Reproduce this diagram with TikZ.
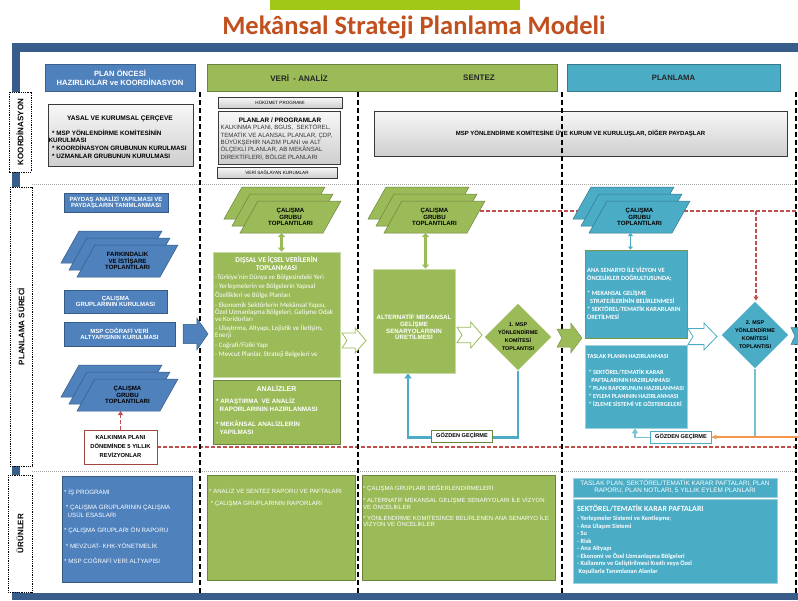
\documentclass[tikz,border=0pt]{standalone}
\usepackage{fontspec}
\setmainfont{Liberation Sans}
\newfontfamily\calfont{Carlito}
\usetikzlibrary{shapes.geometric,arrows.meta,calc}
\pgfdeclarelayer{back}
\pgfdeclarelayer{bg}
\pgfsetlayers{back,bg,main}
\definecolor{frameblue}{RGB}{56,93,138}
\definecolor{hblue}{RGB}{79,129,189}
\definecolor{hgreen}{RGB}{155,187,89}
\definecolor{hteal}{RGB}{75,172,198}
\definecolor{titlec}{RGB}{192,80,30}
\definecolor{topgreen}{RGB}{160,200,20}
\definecolor{redd}{RGB}{192,80,77}
\definecolor{orangec}{RGB}{247,150,70}
\newcommand\fs[2]{\fontsize{#1}{#2}\selectfont}
\newcommand\boxc[7]{\node[#6, minimum width={(#4)-(#2)}, minimum height={(#5)-(#3)}] (#1) at ({((#2)+(#4))/2},{((#3)+(#5))/2}) {#7};}
\newcommand\stk[5]{%
 \foreach \k in {0,1,2}{%
  \filldraw[fill=#4, draw=#4!70!black, line width=0.5pt]
   ({#2+8*\k+18},{#3+7*\k}) -- ({#2+8*\k+101},{#3+7*\k}) -- ({#2+8*\k+83},{#3+7*\k+32}) -- ({#2+8*\k},{#3+7*\k+32}) -- cycle;}
 \node[stktxt] (#1) at ({#2+66.5},{#3+30}) {#5};
 \coordinate (#1-b) at ({#2+57.5},{#3+46});}
\newcommand\barr[6]{%
 \filldraw[#6] (#1,{#2+0.2*(#4-#2)}) -- ({#3-0.45*(#3-#1)},{#2+0.2*(#4-#2)}) -- ({#3-0.45*(#3-#1)},#2) -- (#3,{(#2+#4)/2}) -- ({#3-0.45*(#3-#1)},#4) -- ({#3-0.45*(#3-#1)},{#4-0.2*(#4-#2)}) -- (#1,{#4-0.2*(#4-#2)}) -- ({#1+#5},{(#2+#4)/2}) -- cycle;}
\tikzset{
 every node/.style={inner sep=0pt},
 hdrb/.style={fill=hblue, draw=hblue!75!black, line width=0.6pt, text=white, font=\bfseries\fs{7.6}{8.6}, align=center},
 hdrg/.style={fill=hgreen, draw=hgreen!70!black, line width=0.6pt},
 hdrt/.style={fill=hteal, draw=hteal!70!black, line width=0.6pt, font=\bfseries\fs{7.7}{9}, text=black!85},
 htxt/.style={font=\bfseries\fs{8}{9}, text=black!85},
 lbl/.style={draw=black, dash pattern=on 1pt off 0.8pt, line width=0.9pt, fill=white, font=\bfseries\fs{8}{9}},
 gbox/.style={top color=gray!6, bottom color=gray!38, draw=gray!45!black, line width=0.6pt, align=center},
 lbx/.style={fill=hblue, draw=hblue!70!black, line width=0.6pt, text=white, font=\bfseries\fs{6}{6.6}, align=center},
 gbx/.style={fill=hgreen, draw=hgreen!55!white, line width=0.8pt},
 gbx2/.style={fill=hgreen, draw=hgreen!70!black, line width=0.6pt},
 tbx1/.style={fill=hteal, draw=hgreen!80!black, line width=0.9pt},
 tbx2/.style={fill=hteal, draw=hteal!55!white, line width=0.8pt},
 ubb/.style={fill=hblue, draw=hblue!70!black, line width=0.6pt},
 ugb/.style={fill=hgreen, draw=hgreen!70!black, line width=0.6pt},
 utb/.style={fill=hteal, draw=hteal!55!white, line width=0.8pt},
 stktxt/.style={font=\bfseries\fs{6.1}{6.6}, align=center, text=black},
 wtxt/.style={anchor=north west, align=left, text=white},
 vdash/.style={line width=1.7pt, dash pattern=on 5pt off 3pt},
 rowsep/.style={draw=gray!70, line width=0.6pt, dash pattern=on 1pt off 1pt},
 reddash/.style={draw=redd, line width=1.4pt, dash pattern=on 4pt off 2pt},
 fb/.style={draw=hteal, line width=2.2pt},
 fb2/.style={draw=hteal!75!white, line width=1.6pt},
 dia/.style={diamond, minimum width=68pt, minimum height=68pt, font=\bfseries\fs{5.4}{8}, align=center, line width=0.8pt, draw=white},
 gz/.style={fill=white, line width=0.7pt, font=\bfseries\fs{5.6}{6}, minimum width=61pt, minimum height=12pt},
 dbl/.style={line width=2.2pt, {Triangle[length=4pt,width=7pt]}-{Triangle[length=4pt,width=7pt]}},
}
\begin{document}
\begin{tikzpicture}[x=1pt,y=-1pt]
\useasboundingbox (0,0) rectangle (798,600);
\clip (0,0) rectangle (798,600);
\begin{pgfonlayer}{back}
 \fill[white] (0,0) rectangle (798,600);
 \fill[frameblue] (12,43) rectangle (805,600);
 \fill[white] (20,52) rectangle (805,593);
 \draw[rowsep] (32,184) -- (798,184);
 \draw[rowsep] (32,471) -- (798,471);
\end{pgfonlayer}

% title
\node[fill=topgreen, minimum width=250pt, minimum height=10pt] (gbar) at (395,5) {};
\node[font=\calfont\bfseries\fs{26.5}{30}, text=titlec] (title) at (414,27) {Mekânsal Strateji Planlama Modeli};

% headers
\boxc{h1}{45}{64}{195}{91}{hdrb}{PLAN ÖNCESİ\\HAZIRLIKLAR ve KOORDİNASYON}
\boxc{h2}{207}{64}{557}{91}{hdrg}{}
\node[htxt] (h2a) at (299,78) {VERİ \ - ANALİZ};
\node[htxt] (h2b) at (479,78) {SENTEZ};
\boxc{h3}{567}{64}{780}{91}{hdrt}{PLANLAMA}

% row labels
\node[lbl, rotate=90, minimum width=80pt, minimum height=22pt] (lk) at (20,132) {KOORDİNASYON};
\node[lbl, rotate=90, minimum width=279pt, minimum height=22pt] (lp) at (21,326.5) {PLANLAMA SÜRECİ};
\node[lbl, rotate=90, minimum width=117pt, minimum height=24pt] (lu) at (20,533.5) {ÜRÜNLER};

% koordinasyon row
\boxc{yasal}{48}{104}{193}{166}{gbox}{}
\node[font=\bfseries\fs{6.6}{7}] (yasalt) at (120,119) {YASAL VE KURUMSAL ÇERÇEVE};
\node[anchor=north west, align=left, font=\bfseries\fs{6.3}{7.7}] (yasalb) at (48.5,129.5) {\ \ * MSP YÖNLENDİRME KOMİTESİNİN\\KURULMASI\\\ \ * KOORDİNASYON GRUBUNUN KURULMASI\\\ \ * UZMANLAR GRUBUNUN KURULMASI};
\boxc{huk}{218}{97}{342}{108}{gbox}{\fs{4.6}{5}HÜKÜMET PROGRAMI}
\boxc{plan}{218}{111}{340}{164}{gbox}{}
\node[font=\bfseries\fs{6.4}{7}] (plant) at (280,120) {PLANLAR / PROGRAMLAR};
\node[anchor=north west, align=left, font=\fs{6.1}{7.3}, text=black!80] (planb) at (220.5,124.5) {KALKINMA PLANI, BGUS, \ SEKTÖREL,\\TEMATİK VE ALANSAL PLANLAR, ÇDP,\\BÜYÜKŞEHİR NAZIM PLANI ve ALT\\ÖLÇEKLİ PLANLAR, AB MEKÂNSAL\\DİREKTİFLERİ, BÖLGE PLANLARI};
\boxc{veri}{217}{167}{337}{178}{gbox}{\fs{4.6}{5}VERİ SAĞLAYAN KURUMLAR}
\boxc{msp}{374}{111}{787}{156}{gbox}{\bfseries\fs{6}{6.5}MSP YÖNLENDİRME KOMİTESİNE ÜYE KURUM VE KURULUŞLAR, DİĞER PAYDAŞLAR}

% column separators
\foreach \xx in {200,358,562,796} \draw[vdash] (\xx,92) -- (\xx,593);

% left column
\boxc{pay}{64}{193}{168}{212}{lbx}{PAYDAŞ ANALİZİ YAPILMASI VE\\PAYDAŞLARIN TANIMLANMASI}
\stk{lstk1}{61}{231}{hblue}{FARKINDALIK\\VE İSTİŞARE\\TOPLANTILARI}
\boxc{cgk}{64}{290}{167}{313}{lbx}{ÇALIŞMA\\GRUPLARININ KURULMASI}
\boxc{cog}{64}{322}{175}{346}{lbx}{MSP COĞRAFİ VERİ\\ALTYAPISININ KURULMASI}
\stk{lstk2}{61}{365}{hblue}{ÇALIŞMA\\GRUBU\\TOPLANTILARI}
\boxc{kal}{84}{430}{157}{464}{fill=white, draw=redd!85!black, line width=0.8pt, font=\bfseries\fs{5.8}{9}, align=center}{KALKINMA PLANI\\DÖNEMİNDE 5 YILLIK\\REVİZYONLAR}
\barr{183}{318}{208}{350}{0}{fill=hblue, draw=hblue!70!black, line width=0.5pt}

% veri - analiz column
\stk{gstk1}{224}{187}{hgreen}{ÇALIŞMA\\GRUBU\\TOPLANTILARI}
\boxc{dis}{213}{252}{340}{377}{gbx}{}
\node[font=\calfont\bfseries\fs{7.4}{7.5}, text=white, align=center] (dist) at (276.5,263.5) {DIŞSAL VE İÇSEL VERİLERİN\\TOPLANMASI};
\node[wtxt, font=\calfont\fs{6.9}{7}] (disb) at (215,274.5) {-Türkiye’nin Dünya ve Bölgesindeki Yeri\\[2.3pt]- Yerleşmelerin ve Bölgelerin Yapısal\\[2pt]Özellikleri ve Bölge Planları\\[2.5pt]- Ekonomik Sektörlerin Mekânsal Yapısı,\\Özel Uzmanlaşma Bölgeleri, Gelişme Odak\\ve Koridorları\\[2.5pt]- Ulaştırma, Altyapı, Lojistik ve İletişim,\\Enerji\\[2.5pt]- Coğrafi/Fiziki Yapı\\[2.5pt]- Mevcut Planlar, Strateji Belgeleri ve};
\boxc{ana}{213}{380}{340}{444}{gbx2}{}
\node[font=\bfseries\fs{7}{7}, text=white] (anat) at (276.5,388) {ANALİZLER};
\node[wtxt, font=\bfseries\fs{6.3}{8}] (anab) at (216,397.5) {* ARAŞTIRMA \ VE ANALİZ\\\ \ RAPORLARININ HAZIRLANMASI\\[7pt]* MEKÂNSAL ANALİZLERİN\\\ \ YAPILMASI};
\draw[dbl, hgreen] (gstk1-b) -- (gstk1-b |- dis.north);
\barr{342}{328}{366}{353}{5}{fill=white, draw=hgreen, line width=0.8pt}

% sentez column
\stk{sstk}{368}{187}{hgreen}{ÇALIŞMA\\GRUBU\\TOPLANTILARI}
\boxc{alt}{373}{269}{455}{373}{gbx}{}
\node[font=\bfseries\fs{6.2}{6.8}, text=white, align=center] (altt) at (414,327) {ALTERNATİF MEKANSAL\\GELİŞME\\SENARYOLARININ\\ÜRETİLMESİ};
\draw[dbl, hgreen] (sstk-b) -- (sstk-b |- alt.north);
\barr{457}{322}{482}{348}{5}{fill=white, draw=hgreen, line width=0.8pt}
\node[dia, fill=hgreen] (d1) at (518,337) {1. MSP\\YÖNLENDİRME\\KOMİTESİ\\TOPLANTISI};
\barr{557}{323}{582}{353}{5}{fill=hgreen, draw=hgreen!80!black, line width=0.5pt}
\node[gz, draw=hgreen!70!black] (gz1) at (462,436) {GÖZDEN GEÇİRME};

% planlama column
\stk{pstk}{573}{187}{hteal}{ÇALIŞMA\\GRUBU\\TOPLANTILARI}
\boxc{anas}{585}{250}{687}{338}{tbx1}{}
\node[wtxt, font=\calfont\bfseries\fs{6.4}{8}] (anasb) at (587,267) {ANA SENARYO İLE VİZYON VE\\ÖNCELİKLER DOĞRULTUSUNDA;\\[7pt]* MEKANSAL GELİŞME\\\ \ STRATEJİLERİNİN BELİRLENMESİ\\* SEKTÖREL/TEMATİK KARARLARIN\\ÜRETİLMESİ};
\boxc{tas}{585}{345}{687}{428}{tbx2}{}
\node[wtxt, font=\calfont\bfseries\fs{6.2}{8}] (tasb) at (587,354) {TASLAK PLANIN HAZIRLANMASI\\[8pt]\ * SEKTÖREL/TEMATİK KARAR\\\ \ \ PAFTALARININ HAZIRLANMASI\\\ * PLAN RAPORUNUN HAZIRLANMASI\\\ * EYLEM PLANININ HAZIRLANMASI\\\ * İZLEME SİSTEMİ VE GÖSTERGELERİ};
\draw[line width=1.2pt, hteal, {Triangle[length=3pt,width=5pt]}-{Triangle[length=3pt,width=5pt]}] (pstk-b) -- (pstk-b |- anas.north);
\barr{688}{323}{717}{350}{5}{fill=white, draw=hteal, line width=0.8pt}
\node[dia, fill=hteal] (d2) at (755,335) {2. MSP\\YÖNLENDİRME\\KOMİTESİ\\TOPLANTISI};
\barr{791}{322}{815}{350}{4}{fill=hteal, draw=hteal!70!black, line width=0.5pt}
\node[gz, draw=hteal] (gz2) at (681,437) {GÖZDEN GEÇİRME};
\coordinate (oe) at (800,437);
\draw[orangec, line width=1.3pt, -{Stealth[length=5pt,width=5pt]}] (oe) -- (gz2.east);

% connectors on background
\coordinate (rs) at (480,211);
\coordinate (re) at (796,211);
\coordinate (rb) at (756,211);
\coordinate (rk) at (796,0);
\begin{pgfonlayer}{bg}
 \draw[reddash] (kal.east) -- (kal.east -| rk);
 \draw[reddash, -{Triangle[length=4pt,width=5pt]}] (kal.north) -- (kal.north |- lstk2-b);
 \draw[reddash] (rs) -- (re);
 \draw[reddash, -{Triangle[length=4pt,width=5pt]}] (rb) -- (rb |- d2.north);
 \draw[fb, -{Triangle[length=5pt,width=7pt]}] (d1.south) |- ($(alt.south)+(-6,64)$) -- ($(alt.south)+(-6,0)$);
 \draw[fb2, -{Triangle[length=5pt,width=6pt]}] (d2.south) |- ($(tas.south)+(-1,9)$) -- ($(tas.south)+(-1,0)$);
\end{pgfonlayer}

% urunler row
\boxc{u1}{62}{476}{192}{582}{ubb}{}
\node[wtxt, font=\fs{6.2}{6.5}] (u1t) at (64,489) {* İŞ PROGRAMI\\[8.5pt]\ * ÇALIŞMA GRUPLARININ ÇALIŞMA\\\ \ USÜL ESASLARI\\[8.5pt]* ÇALIŞMA GRUPLARI ÖN RAPORU\\[8.5pt]\ * MEVZUAT- KHK-YÖNETMELİK\\[8.5pt]* MSP COĞRAFİ VERİ ALTYAPISI};
\boxc{u2}{207}{475}{355}{580}{ugb}{}
\node[wtxt, font=\fs{6.1}{12}] (u2t) at (209,488) {* ANALİZ VE SENTEZ RAPORU VE PAFTALARI\\\ * ÇALIŞMA GRUPLARININ RAPORLARI};
\boxc{u3}{362}{475}{555}{580}{ugb}{}
\node[wtxt, font=\fs{6}{6.5}] (u3t) at (363,485) {* ÇALIŞMA GRUPLARI DEĞERLENDİRMELERİ\\[6pt]* ALTERNATİF MEKANSAL GELİŞME SENARYOLARI İLE VİZYON\\VE ÖNCELİKLER\\[4.5pt]* YÖNLENDİRME KOMİTESİNCE BELİRLENEN ANA SENARYO İLE\\VİZYON VE ÖNCELİKLER};
\boxc{u4}{573}{478}{777}{497}{utb}{}
\node[font=\fs{6.4}{7}, text=white, align=center] (u4t) at (675,486.5) {TASLAK PLAN, SEKTÖREL/TEMATİK KARAR PAFTALARI, PLAN\\RAPORU, PLAN NOTLARI, 5 YILLIK EYLEM PLANLARI};
\boxc{u5}{573}{499}{777}{583}{utb}{}
\node[wtxt, font=\calfont\bfseries\fs{7.9}{8}] (u5h) at (577,505) {SEKTÖREL/TEMATİK KARAR PAFTALARI};
\node[wtxt, font=\calfont\bfseries\fs{6.4}{7.5}] (u5l) at (577,516) {- Yerleşmeler Sistemi ve Kentleşme;\\- Ana Ulaşım Sistemi\\- Su\\- Risk\\- Ana Altyapı\\- Ekonomi ve Özel Uzmanlaşma Bölgeleri\\- Kullanımı ve Geliştirilmesi Kısıtlı veya Özel\\\ Koşullarla Tanımlanan Alanlar};
\end{tikzpicture}
\end{document}
